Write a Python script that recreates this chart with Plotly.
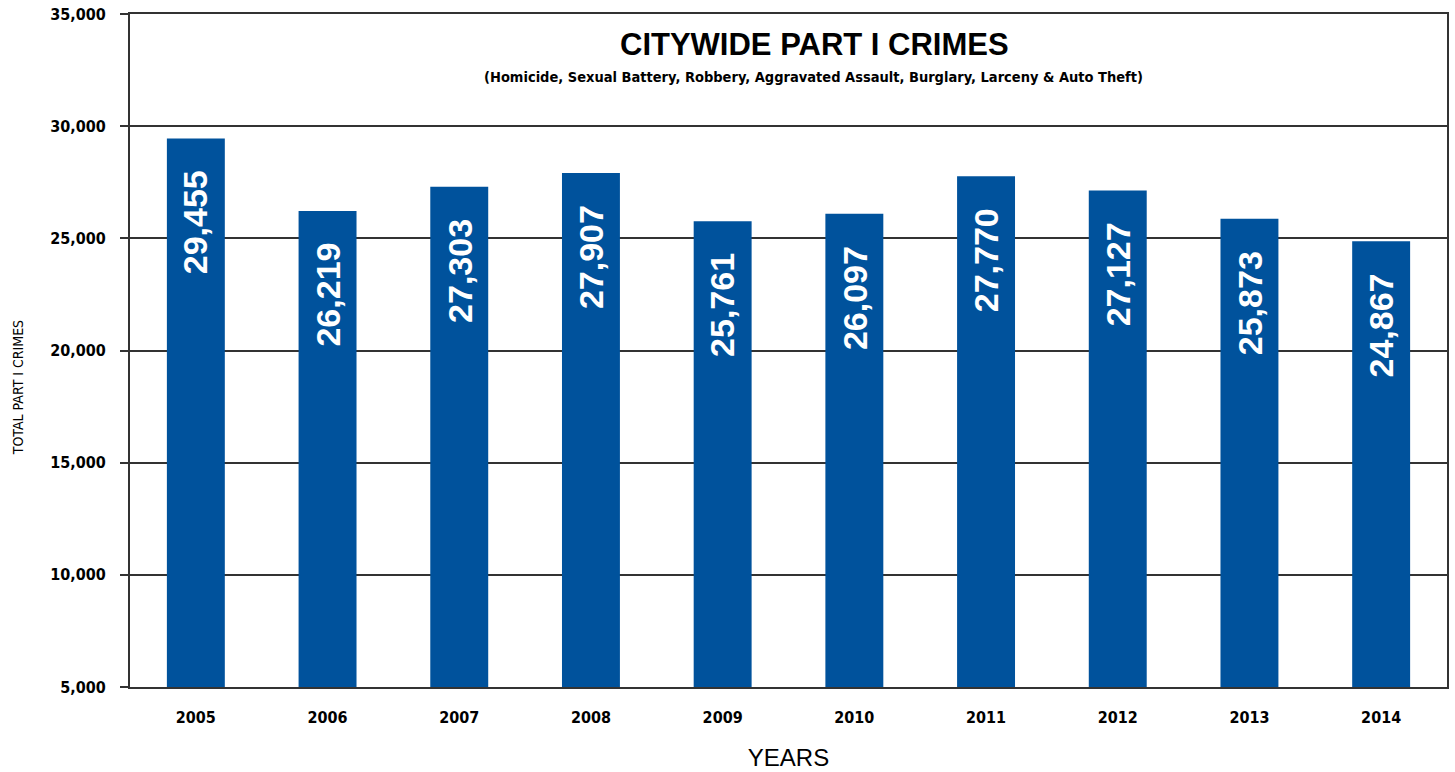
import plotly.graph_objects as go

years = ["2005", "2006", "2007", "2008", "2009", "2010", "2011", "2012", "2013", "2014"]
crimes = [29455, 26219, 27303, 27907, 25761, 26097, 27770, 27127, 25873, 24867]
y_ticks = [5000, 10000, 15000, 20000, 25000, 30000, 35000]

bar_color = "#00529C"
line_color = "#333333"
narrow = "DejaVu Sans Condensed, Liberation Sans, sans-serif"

fig = go.Figure()
fig.add_trace(go.Bar(
    x=years, y=crimes, marker=dict(color=bar_color, line=dict(width=0)),
    hoverinfo="x+y",
))

annotations = []
for i, v in enumerate(crimes):
    annotations.append(dict(
        x=i, y=v, xref="x", yref="y", text=f"{v:,}", showarrow=False,
        textangle=-90, yanchor="top", xanchor="center", yshift=-30,
        font=dict(family="Liberation Sans", size=34, color="white", weight="bold"),
    ))

annotations += [
    dict(x=0.52, y=0.955, xref="paper", yref="paper", text="<b>CITYWIDE PART I CRIMES</b>",
         xanchor="center", yanchor="middle",
         showarrow=False, font=dict(family="Liberation Sans", size=31, color="black")),
    dict(x=0.519, y=0.906, xref="paper", yref="paper",
         text="<b>(Homicide, Sexual Battery, Robbery, Aggravated Assault, Burglary, Larceny &amp; Auto Theft)</b>",
         xanchor="center", yanchor="middle",
         showarrow=False, font=dict(family=narrow, size=14.5, color="black")),
    dict(x=-0.085, y=0.444, xref="paper", yref="paper", text="TOTAL PART I CRIMES",
         xanchor="center", yanchor="middle",
         showarrow=False, textangle=-90, font=dict(family=narrow, size=14, color="black")),
]

fig.update_layout(
    width=1455, height=772,
    margin=dict(l=130, r=8, t=14, b=85, autoexpand=False),
    paper_bgcolor="white", plot_bgcolor="white",
    bargap=0.56, showlegend=False,
    annotations=annotations,
    xaxis=dict(
        type="category", range=[-0.5, len(years) - 0.5], automargin=False,
        showline=True, linecolor=line_color, linewidth=2, mirror=True,
        showgrid=False, ticks="", ticklabelstandoff=15,
        tickfont=dict(family=narrow, size=16, color="black", weight="bold"),
        title=dict(text="YEARS", font=dict(family="Liberation Sans", size=24, color="black"), standoff=23),
    ),
    yaxis=dict(
        range=[5000, 35000], tickvals=y_ticks, ticktext=[f"{t:,}" for t in y_ticks],
        automargin=False, ticklabeloverflow="allow",
        showline=True, linecolor=line_color, linewidth=2, mirror=True,
        showgrid=True, gridcolor=line_color, gridwidth=2,
        ticks="outside", ticklen=8, tickwidth=2, tickcolor=line_color,
        ticklabelstandoff=11,
        tickfont=dict(family=narrow, size=16, color="black", weight="bold"),
        zeroline=False,
    ),
)

fig.write_html("out.html", config={"displayModeBar": False},
               post_script="document.body.style.margin='0px';")
